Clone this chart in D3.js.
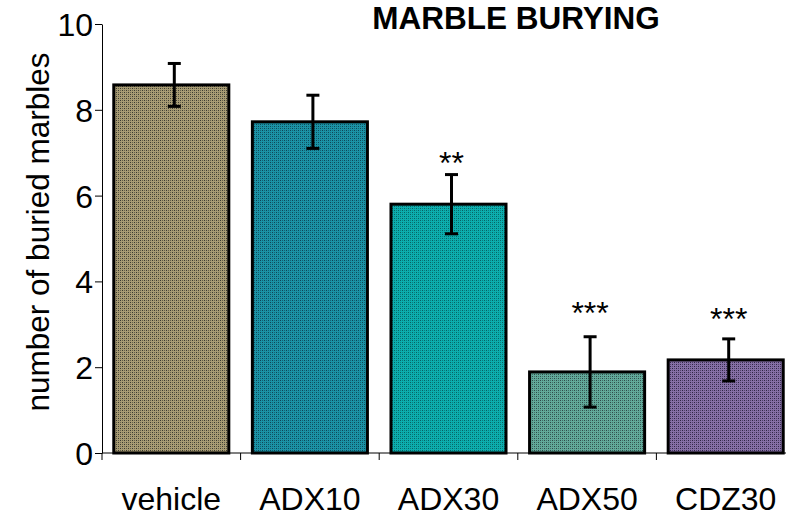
<!DOCTYPE html>
<html><head><meta charset="utf-8">
<script src="https://cdn.jsdelivr.net/npm/d3@7/dist/d3.min.js"></script>
<style>body{margin:0;background:#fff}svg{display:block}text{font-family:"Liberation Sans",Arial,sans-serif}</style>
</head><body><svg id="c" width="786" height="519"></svg>
<script>
const categories = ["vehicle","ADX10","ADX30","ADX50","CDZ30"];
const means = [8.58, 7.72, 5.8, 1.89, 2.17];
const errors = [0.5, 0.62, 0.69, 0.82, 0.49];
const stars = ["", "", "**", "***", "***"];
const starLevel = [null, null, 6.92, 3.43, 3.29];
const yTicks = [0,2,4,6,8,10];
const baseColors = ["#a89c74","#1b93a6","#0caeae","#62aa9a","#8670a6"];
const darkColors = ["#3a3a30","#0e4656","#066262","#2e4a48","#2e2444"];

const svg = d3.select("#c");
const defs = svg.append("defs");
baseColors.forEach((c,i)=>{
  const p = defs.append("pattern").attr("id","p"+i).attr("patternUnits","userSpaceOnUse")
    .attr("width",4).attr("height",4);
  p.append("rect").attr("width",4).attr("height",4).attr("fill",c);
  [[0,0],[2,2],[2,0],[0,2]].forEach(([a,b],k)=>{
    p.append("rect").attr("x",a).attr("y",b).attr("width",1).attr("height",1)
      .attr("fill",darkColors[i]).attr("opacity",k<2?1:0.6);
  });
});

const x = d3.scaleBand().domain(categories).range([102, 795]).paddingInner(0.17).paddingOuter(0.085);
const y = d3.scaleLinear().domain([0,10]).range([453, 24]);

// bars
svg.append("g").selectAll("rect").data(categories).join("rect")
  .attr("x", d=>x(d)).attr("width", x.bandwidth())
  .attr("y", (d,i)=>y(means[i])).attr("height",(d,i)=>y(0)-y(means[i]))
  .attr("fill",(d,i)=>`url(#p${i})`).attr("stroke","#000").attr("stroke-width",3);

// error bars
const eg = svg.append("g").attr("stroke","#000").attr("stroke-width",3);
categories.forEach((d,i)=>{
  const cx = x(d)+x.bandwidth()/2 + 3;
  const t = y(means[i]+errors[i]), b = y(means[i]-errors[i]);
  eg.append("line").attr("x1",cx).attr("x2",cx).attr("y1",t).attr("y2",b);
  eg.append("line").attr("x1",cx-6.5).attr("x2",cx+6.5).attr("y1",t).attr("y2",t);
  eg.append("line").attr("x1",cx-6.5).attr("x2",cx+6.5).attr("y1",b).attr("y2",b);
});

// stars
categories.forEach((d,i)=>{
  if(!stars[i]) return;
  svg.append("text").attr("x", x(d)+x.bandwidth()/2+3).attr("y", y(starLevel[i])+18)
    .attr("text-anchor","middle").attr("font-size",32).text(stars[i]);
});

// y axis
const ya = svg.append("g").attr("transform","translate(102,0)")
  .call(d3.axisLeft(y).tickValues(yTicks).tickSize(7).tickPadding(2).tickSizeOuter(0));
ya.select(".domain").attr("stroke","#000").attr("stroke-width",1);
ya.selectAll(".tick line").attr("stroke","#000");
ya.selectAll(".tick text").attr("font-size",32).attr("fill","#000").attr("dy","0.36em")
  .attr("font-family","Liberation Sans, Arial, sans-serif");

// x axis
const xa = svg.append("g").attr("transform","translate(0,453)");
xa.append("line").attr("x1",102).attr("x2",786).attr("stroke","#000");
const bounds = categories.map(d=>x(d)-x.step()*x.paddingInner()/2).concat([x(categories[4])+x.bandwidth()+x.step()*x.paddingInner()/2]);
xa.selectAll("line.t").data(bounds).join("line").attr("class","t")
  .attr("x1",d=>d).attr("x2",d=>d).attr("y1",0).attr("y2",7).attr("stroke","#000");
xa.selectAll("text").data(categories).join("text")
  .attr("x",d=>x(d)+x.bandwidth()/2).attr("y",57).attr("text-anchor","middle")
  .attr("font-size",32).text(d=>d);

// y label
svg.append("text").attr("transform","translate(49,232) rotate(-90)").attr("text-anchor","middle")
  .attr("font-size",31.5).text("number of buried marbles");

// title
svg.append("text").attr("x",516).attr("y",29).attr("text-anchor","middle")
  .attr("font-size",31.5).attr("font-weight","bold").text("MARBLE BURYING");
</script></body></html>
